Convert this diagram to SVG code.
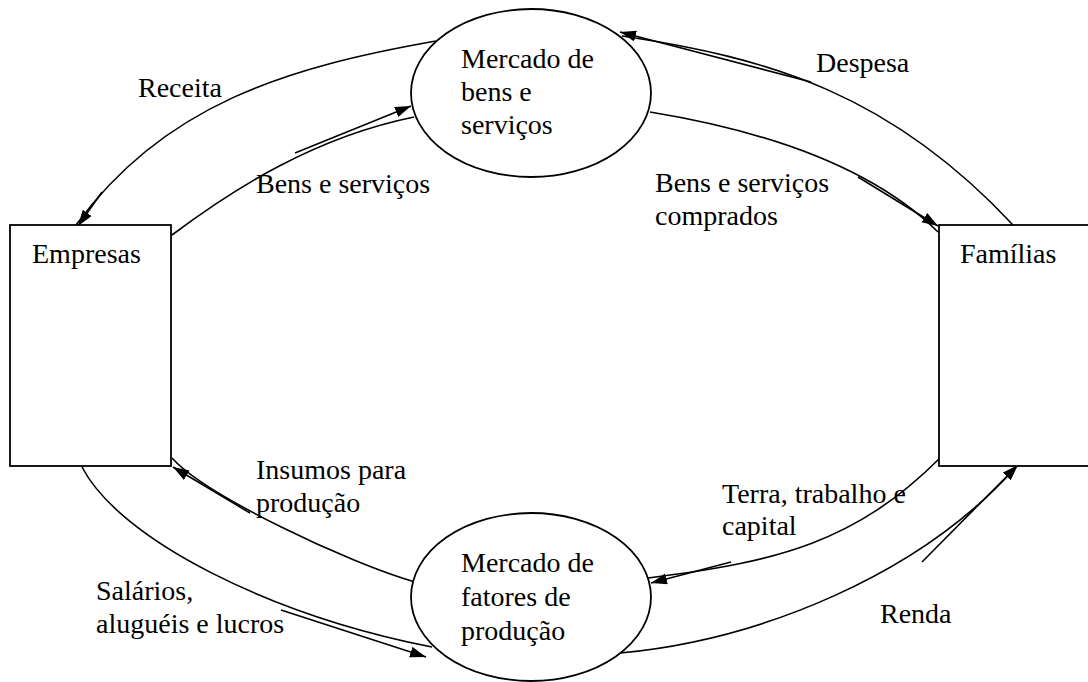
<svg xmlns="http://www.w3.org/2000/svg" width="1088" height="682" viewBox="0 0 1088 682">
<style>
  .shape{fill:#fff;stroke:#000;stroke-width:1.8}
  .conn{fill:none;stroke:#000;stroke-width:1.6}
  .lbl{font-family:"Liberation Serif","Times New Roman",serif;font-size:28px;fill:#000}
</style>
<defs>
  <marker id="ah" markerUnits="userSpaceOnUse" markerWidth="18" markerHeight="13" refX="16" refY="5.5" orient="auto">
    <path d="M0,0 L16,5.5 L0,11 z" fill="#000"/>
  </marker>
</defs>
<rect width="1088" height="682" fill="#fff"/>

<g id="connectors">
  <!-- Receita -->
  <path class="conn" d="M436,41 C288,67 164,104 76,225"/>
  <line class="conn" x1="102" y1="192" x2="78" y2="226" marker-end="url(#ah)"/>
  <!-- Bens e serviços (Empresas -> mercado) -->
  <path class="conn" d="M172,235 C236,187 316,137 414,117"/>
  <line class="conn" x1="295" y1="153" x2="411" y2="106" marker-end="url(#ah)"/>
  <!-- Despesa -->
  <path class="conn" d="M1013,225 C891,94 770,58 622,36"/>
  <line class="conn" x1="811" y1="82" x2="620" y2="32" marker-end="url(#ah)"/>
  <!-- Bens e serviços comprados -->
  <path class="conn" d="M650,112 C760,130 870,165 938,232"/>
  <line class="conn" x1="858" y1="177" x2="938" y2="226" marker-end="url(#ah)"/>
  <!-- Insumos para produção -->
  <path class="conn" d="M415,582 C348,563 205,495 172,458"/>
  <line class="conn" x1="250" y1="513" x2="173" y2="467" marker-end="url(#ah)"/>
  <!-- Salários, aluguéis e lucros -->
  <path class="conn" d="M82,467 C120,540 270,615 432,647"/>
  <line class="conn" x1="281" y1="610" x2="426" y2="657" marker-end="url(#ah)"/>
  <!-- Terra, trabalho e capital -->
  <path class="conn" d="M940,458 C856,542 778,562 648,578"/>
  <line class="conn" x1="731" y1="562" x2="651" y2="583" marker-end="url(#ah)"/>
  <!-- Renda -->
  <path class="conn" d="M620,653 C760,640 920,575 1016,467"/>
  <line class="conn" x1="922" y1="562" x2="1018" y2="465" marker-end="url(#ah)"/>
</g>

<g id="empresas">
  <rect class="shape" x="10" y="225" width="161" height="241"/>
  <text class="lbl" x="32" y="263">Empresas</text>
</g>

<g id="familias">
  <rect class="shape" x="939" y="225" width="170" height="241"/>
  <text class="lbl" x="960" y="263">Famílias</text>
</g>

<g id="mercado-bens">
  <ellipse class="shape" cx="531" cy="93" rx="120" ry="84"/>
  <text class="lbl" x="461" y="68">Mercado de</text>
  <text class="lbl" x="461" y="101">bens e</text>
  <text class="lbl" x="461" y="134">serviços</text>
</g>

<g id="mercado-fatores">
  <ellipse class="shape" cx="531" cy="597" rx="120" ry="84"/>
  <text class="lbl" x="461" y="572">Mercado de</text>
  <text class="lbl" x="461" y="606">fatores de</text>
  <text class="lbl" x="461" y="640">produção</text>
</g>

<g id="labels">
  <text class="lbl" x="138" y="97">Receita</text>
  <text class="lbl" x="256" y="193">Bens e serviços</text>
  <text class="lbl" x="816" y="72">Despesa</text>
  <text class="lbl" x="655" y="192">Bens e serviços</text>
  <text class="lbl" x="655" y="225">comprados</text>
  <text class="lbl" x="256" y="479">Insumos para</text>
  <text class="lbl" x="256" y="512">produção</text>
  <text class="lbl" x="722" y="503">Terra, trabalho e</text>
  <text class="lbl" x="722" y="535">capital</text>
  <text class="lbl" x="96" y="600">Salários,</text>
  <text class="lbl" x="96" y="633">aluguéis e lucros</text>
  <text class="lbl" x="880" y="623">Renda</text>
</g>
</svg>
